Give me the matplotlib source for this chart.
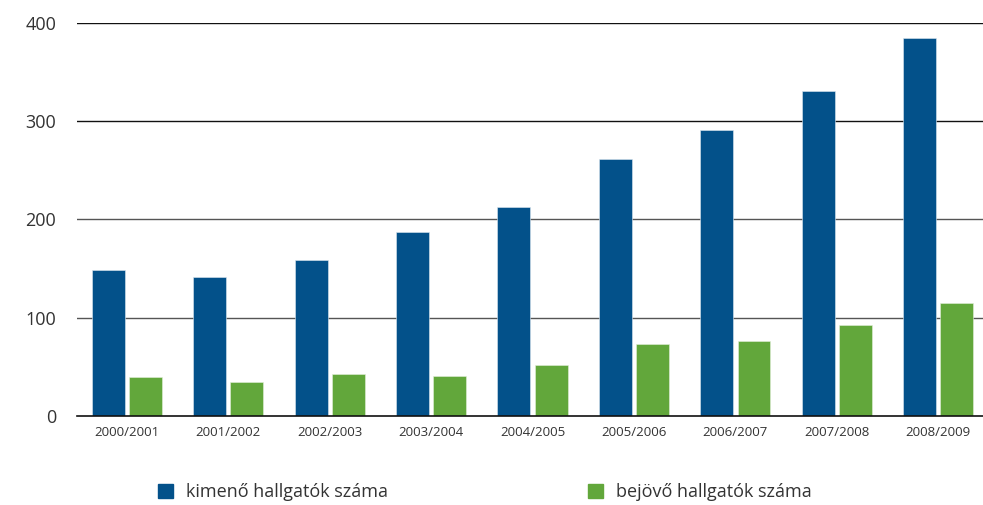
import matplotlib
matplotlib.use("Agg")
import matplotlib.pyplot as plt
from matplotlib.patches import Patch
import numpy as np

plt.rcParams['font.family'] = ['Open Sans', 'DejaVu Sans']

years = ['2000/2001', '2001/2002', '2002/2003', '2003/2004', '2004/2005',
         '2005/2006', '2006/2007', '2007/2008', '2008/2009']
kimeno = [149, 141, 159, 187, 213, 262, 291, 331, 385]
bejovo = [40, 35, 43, 41, 52, 73, 76, 93, 115]
series_names = ['kimenő hallgatók száma', 'bejövő hallgatók száma']

BLUE = '#03518a'
GREEN = '#62a73b'

fig = plt.figure(figsize=(9.83, 5.05), dpi=100)
ax = fig.add_axes([0.0783, 0.1762, 0.9217, 0.7783])

x = np.arange(len(years))
w = 0.325
off = 0.183
ax.bar(x - off, kimeno, width=w, color=BLUE, edgecolor='#dfe8f0', linewidth=0.4, zorder=3)
ax.bar(x + off, bejovo, width=w, color=GREEN, edgecolor='#e3efdc', linewidth=0.4, zorder=3)

ax.set_xlim(-0.49, 8.44)
ax.set_ylim(0, 400)
ax.set_yticks([0, 100, 200, 300, 400])
ax.set_yticklabels(['0', '100', '200', '300', '400'], fontsize=13, color='#333333')
ax.set_xticks(x)
ax.set_xticklabels(years, fontsize=9.5, color='#333333')
ax.tick_params(axis='y', length=0, pad=15)
ax.tick_params(axis='x', length=0, pad=7)

# horizontal grid lines
for v, c in [(100, '#555555'), (200, '#555555'), (300, '#111111'), (400, '#111111')]:
    ax.axhline(v, color=c, linewidth=1.0, zorder=1)

for s in ['top', 'right', 'left']:
    ax.spines[s].set_visible(False)
ax.spines['bottom'].set_color('#111111')
ax.spines['bottom'].set_linewidth(1.2)
ax.spines['bottom'].set_zorder(4)

handles = [Patch(color=BLUE), Patch(color=GREEN)]
fig.legend(handles, series_names, loc='center left', bbox_to_anchor=(0.1612, 0.026),
           ncol=2, frameon=False, fontsize=13, handlelength=0.83, handleheight=0.8,
           handletextpad=0.72, columnspacing=11.05, labelcolor='#333333',
           borderpad=0.0, borderaxespad=0.0)

fig.savefig('out.png', dpi=100)
